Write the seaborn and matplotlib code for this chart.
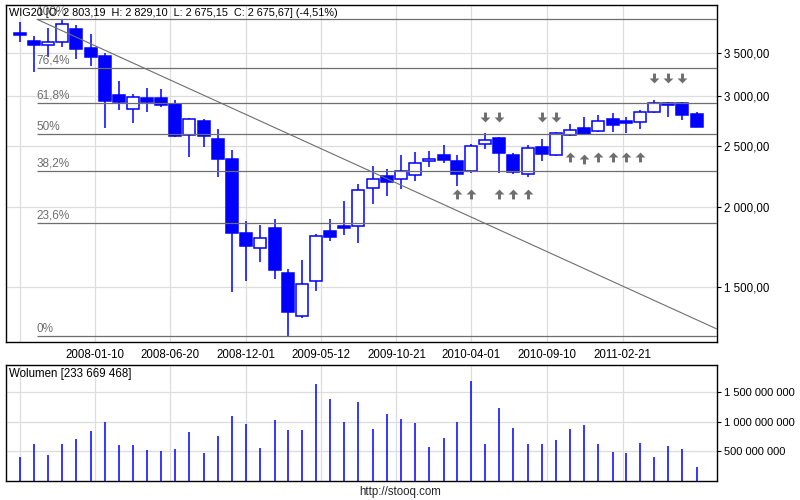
import numpy as np
import pandas as pd
import matplotlib
matplotlib.use("Agg")
import matplotlib.pyplot as plt
import matplotlib.ticker as mticker
import seaborn as sns

# Miesieczne swiece WIG20, lipiec 2007 - lipiec 2011
dates = pd.date_range("2007-07-01", periods=49, freq="MS") + pd.offsets.MonthEnd(0)

opens = [3765, 3651, 3598, 3638, 3817, 3563, 3463, 3005, 2858, 2978,
         2975, 2908, 2597, 2735, 2562, 2384, 1820, 1724, 1857, 1577,
         1348, 1534, 1837, 1867, 1868, 2143, 2242, 2217, 2247, 2366,
         2414, 2366, 2281, 2514, 2575, 2418, 2256, 2486, 2421, 2603,
         2662, 2640, 2752, 2735, 2722, 2825, 2924, 2924, 2803.19]
highs = [3911, 3728, 3827, 3954, 3870, 3755, 3496, 3162, 3016, 3079,
         3071, 2951, 2765, 2758, 2656, 2462, 1904, 1874, 1918, 1598,
         1653, 1816, 1920, 2050, 2174, 2324, 2298, 2418, 2444, 2453,
         2508, 2414, 2521, 2623, 2580, 2433, 2508, 2559, 2631, 2704,
         2773, 2795, 2814, 2778, 2846, 2951, 2930, 2928, 2829.10]
lows = [3646, 3262, 3446, 3580, 3424, 3339, 2666, 2846, 2717, 2828,
        2880, 2577, 2403, 2489, 2234, 1470, 1532, 1643, 1543, 1256,
        1339, 1479, 1772, 1810, 1759, 2024, 2087, 2137, 2201, 2319,
        2346, 2165, 2264, 2474, 2264, 2258, 2234, 2369, 2411, 2590,
        2611, 2630, 2630, 2620, 2660, 2820, 2778, 2745, 2675.15]
closes = [3735, 3598, 3638, 3890, 3549, 3453, 2945, 2933, 2980, 2934,
          2903, 2586, 2755, 2594, 2385, 1822, 1740, 1790, 1596, 1369,
          1515, 1803, 1799, 1856, 2134, 2217, 2193, 2285, 2350, 2383,
          2375, 2261, 2496, 2549, 2433, 2270, 2478, 2429, 2619, 2652,
          2611, 2740, 2699, 2715, 2825, 2921, 2903, 2800, 2675.67]
# wolumen w milionach
volumes = [403, 619, 432, 619, 703, 844, 997, 602, 602, 517,
           500, 534, 822, 466, 754, 1093, 958, 551, 1025, 856,
           856, 1641, 1381, 992, 1331, 873, 1127, 1042, 975, 568,
           720, 992, 1686, 619, 1229, 890, 619, 619, 686, 873,
           941, 619, 483, 466, 636, 398, 585, 534, 233.669468]

# Poziomy Fibonacciego
fib_labels = ["0%", "23,6%", "38,2%", "50%", "61,8%", "76,4%", "100%"]
fib_prices = [1255, 1892, 2286, 2605, 2923, 3317, 3954]
fib_start = pd.Timestamp("2007-09-05")

# linia trendu
trend_x = [pd.Timestamp("2007-09-06"), pd.Timestamp("2011-09-13")]
trend_y = [3954, 1287]

# sygnaly (strzalki)
up_idx = [31, 32, 34, 35, 36, 39, 40, 41, 42, 43, 44]
up_price = [2100, 2100, 2100, 2100, 2100, 2397, 2380, 2397, 2397, 2397, 2397]
down_idx = [33, 34, 37, 38, 45, 46, 47]
down_price = [2777, 2777, 2777, 2777, 3200, 3200, 3200]

tick_dates = pd.to_datetime(["2008-01-10", "2008-06-20", "2008-12-01", "2009-05-12",
                             "2009-10-21", "2010-04-01", "2010-09-10", "2011-02-21"])
first_grid = pd.Timestamp("2007-07-31")
y_ticks = [1500, 2000, 2500, 3000, 3500]
y_labels = ["1 500,00", "2 000,00", "2 500,00", "3 000,00", "3 500,00"]
v_ticks = [500, 1000, 1500]
v_labels = ["500 000 000", "1 000 000 000", "1 500 000 000"]

sns.set_style("white")
plt.rcParams["font.family"] = ["Liberation Sans", "DejaVu Sans"]
plt.rcParams["font.size"] = 8

BLUE = "#0000ff"
GRID = "#dddddd"
FIB = "#6e6e6e"

fig = plt.figure(figsize=(8, 5), dpi=100)
ax = fig.add_axes([5.5 / 800, 1 - 342 / 500, 711.5 / 800, 337.5 / 500])
axv = fig.add_axes([5.5 / 800, 1 - 480.5 / 500, 711.5 / 800, 115.5 / 500])

xlim = (pd.Timestamp("2007-06-30"), pd.Timestamp("2011-09-13"))

# --- wykres swiecowy ---
ax.set_yscale("log")
ax.vlines(dates, lows, highs, color=BLUE, lw=1.1, zorder=3)
o = np.array(opens)
c = np.array(closes)
faces = [BLUE if cc < oo else "white" for oo, cc in zip(o, c)]
ax.bar(dates, np.abs(c - o), bottom=np.minimum(o, c), width=26,
       color=faces, edgecolor=BLUE, linewidth=1.1, zorder=4)

ax.hlines(fib_prices, fib_start, xlim[1], color=FIB, lw=0.9, zorder=5)
for lbl, p in zip(fib_labels, fib_prices):
    ax.annotate(lbl, (fib_start, p), xytext=(0, 1), textcoords="offset points",
                ha="left", va="bottom", color=FIB, fontsize=8.5, zorder=6)

sns.lineplot(x=trend_x, y=trend_y, ax=ax, color=FIB, lw=0.8, zorder=5)

down_marker = [(-0.15, 0.5), (0.15, 0.5), (0.15, 0.0), (0.5, 0.0), (0, -0.5),
               (-0.5, 0.0), (-0.15, 0.0), (-0.15, 0.5)]
up_marker = [(x, -y) for x, y in down_marker]
sns.scatterplot(x=dates[up_idx], y=up_price, ax=ax, marker=up_marker, s=50,
                color=FIB, linewidth=0, zorder=6)
sns.scatterplot(x=dates[down_idx], y=down_price, ax=ax, marker=down_marker, s=50,
                color=FIB, linewidth=0, zorder=6)

ax.set_xlim(xlim)
ax.set_ylim(1228, 4172)
ax.yaxis.set_minor_locator(mticker.NullLocator())
ax.yaxis.set_minor_formatter(mticker.NullFormatter())
ax.set_yticks(y_ticks, y_labels)
ax.yaxis.tick_right()
ax.set_xticks(tick_dates, [d.strftime("%Y-%m-%d") for d in tick_dates])
ax.tick_params(axis="both", direction="out", length=3, width=0.8, colors="black",
               labelsize=8.3, pad=2)
ax.grid(True, color=GRID, lw=0.9, zorder=0)
ax.axvline(first_grid, color=GRID, lw=0.9, zorder=0)
ax.set_axisbelow(True)
ax.set_xlabel("")
ax.set_ylabel("")
for sp in ax.spines.values():
    sp.set_color("black")
    sp.set_linewidth(1)

ax.text(3.5 / 711.5, 1 - 9 / 337.5,
        "WIG20 [O: 2 803,19  H: 2 829,10  L: 2 675,15  C: 2 675,67] (-4,51%)",
        transform=ax.transAxes, ha="left", va="center", fontsize=7.8, color="black", zorder=7)

# --- wolumen ---
axv.vlines(dates, 0, volumes, color=BLUE, lw=1.1, zorder=3)
axv.set_xlim(xlim)
axv.set_ylim(0, 1958)
axv.set_yticks(v_ticks, v_labels)
axv.yaxis.tick_right()
axv.set_xticks(tick_dates, [""] * len(tick_dates))
axv.tick_params(axis="x", length=0)
axv.tick_params(axis="y", direction="out", length=3, width=0.8, colors="black",
                labelsize=8, pad=2)
axv.grid(True, color=GRID, lw=0.9, zorder=0)
axv.axvline(first_grid, color=GRID, lw=0.9, zorder=0)
axv.set_axisbelow(True)
for sp in axv.spines.values():
    sp.set_color("black")
    sp.set_linewidth(1)
axv.text(3.5 / 711.5, 1 - 9 / 115.5, "Wolumen [233 669 468]", transform=axv.transAxes,
         ha="left", va="center", fontsize=8.3, color="black")

fig.text(0.5, 1 - 492 / 500, "http://stooq.com", ha="center", va="center", fontsize=8.3)

fig.savefig("out.png", dpi=100, facecolor="white")
